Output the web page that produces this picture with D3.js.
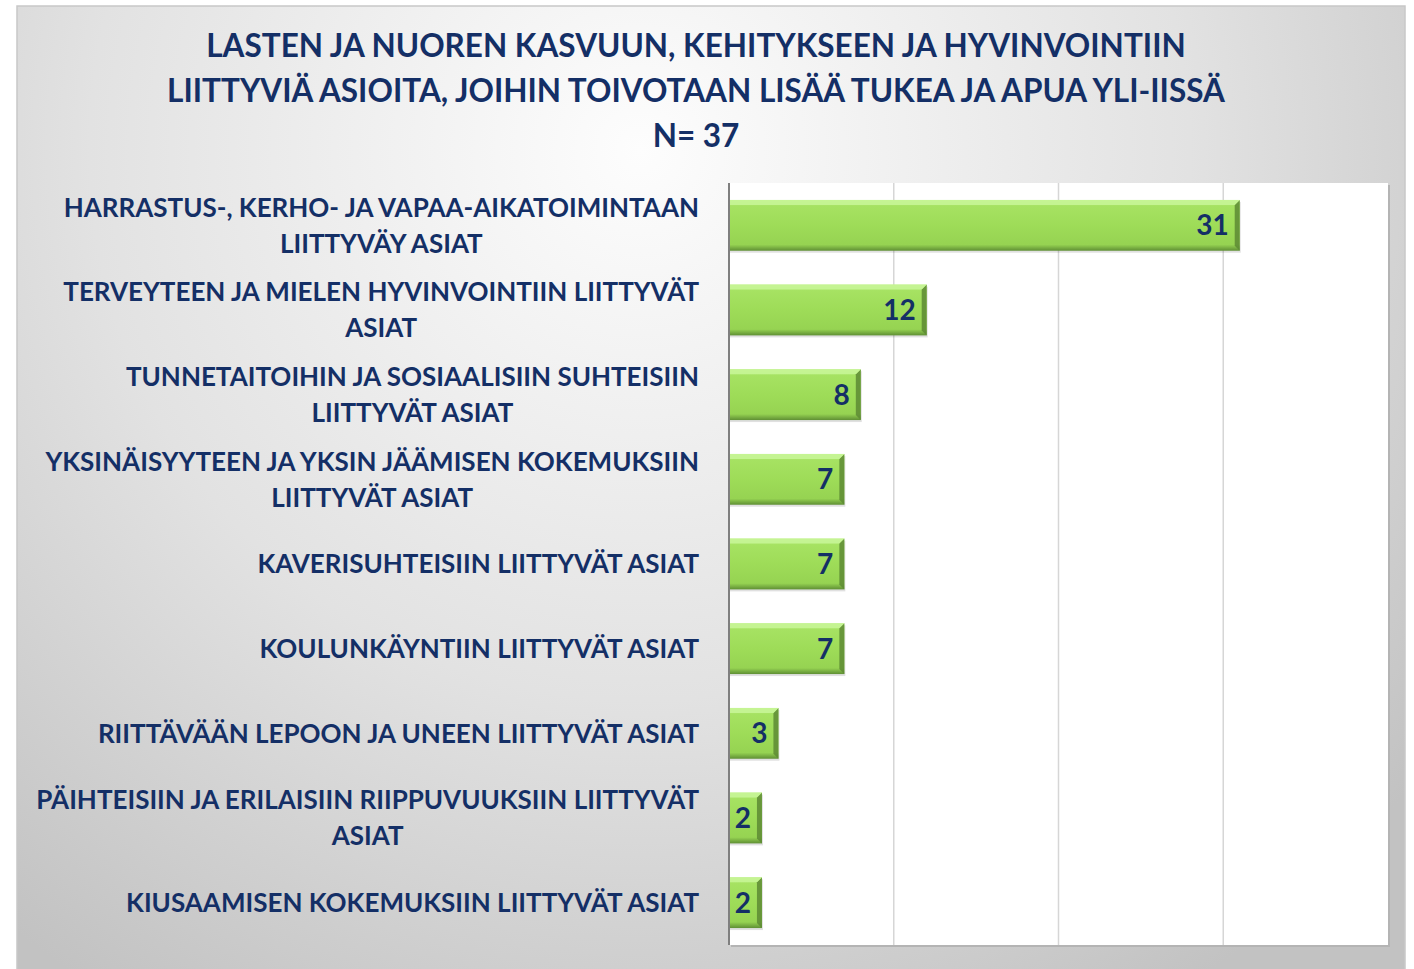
<!DOCTYPE html>
<html>
<head>
<meta charset="utf-8">
<script src="https://cdn.jsdelivr.net/npm/d3@7"></script>
<style>
  body { margin: 0; background: #ffffff; }
  svg { display: block; }
  text { font-family: Lato, "Open Sans", sans-serif; font-weight: bold; fill: #142f66; }
</style>
</head>
<body>
<svg id="chart" width="1414" height="969"></svg>
<script>
// data
var categories = [
    ["HARRASTUS-, KERHO- JA VAPAA-AIKATOIMINTAAN", "LIITTYVÄY ASIAT"],
    ["TERVEYTEEN JA MIELEN HYVINVOINTIIN LIITTYVÄT", "ASIAT"],
    ["TUNNETAITOIHIN JA SOSIAALISIIN SUHTEISIIN", "LIITTYVÄT ASIAT"],
    ["YKSINÄISYYTEEN JA YKSIN JÄÄMISEN KOKEMUKSIIN", "LIITTYVÄT ASIAT"],
    ["KAVERISUHTEISIIN LIITTYVÄT ASIAT"],
    ["KOULUNKÄYNTIIN LIITTYVÄT ASIAT"],
    ["RIITTÄVÄÄN LEPOON JA UNEEN LIITTYVÄT ASIAT"],
    ["PÄIHTEISIIN JA ERILAISIIN RIIPPUVUUKSIIN LIITTYVÄT", "ASIAT"],
    ["KIUSAAMISEN KOKEMUKSIIN LIITTYVÄT ASIAT"]
];
var values = [31, 12, 8, 7, 7, 7, 3, 2, 2];
var xTicks = [0, 10, 20, 30, 40];
var titleLines = [
    "LASTEN JA NUOREN KASVUUN, KEHITYKSEEN JA HYVINVOINTIIN",
    "LIITTYVIÄ ASIOITA, JOIHIN TOIVOTAAN LISÄÄ TUKEA JA APUA YLI-IISSÄ",
    "N= 37"
];

var svg = d3.select("#chart"),
    margin = {top: 183, right: 26, bottom: 24, left: 729},
    width = +svg.attr("width") - margin.left - margin.right,
    height = +svg.attr("height") - margin.top - margin.bottom;

var defs = svg.append("defs");

var bg = defs.append("radialGradient")
    .attr("id", "bg")
    .attr("gradientUnits", "userSpaceOnUse")
    .attr("cx", 640).attr("cy", 150).attr("r", 1000);
bg.append("stop").attr("offset", "0%").attr("stop-color", "#fdfdfd");
bg.append("stop").attr("offset", "55%").attr("stop-color", "#e2e2e2");
bg.append("stop").attr("offset", "100%").attr("stop-color", "#c2c2c2");

var barFill = defs.append("linearGradient")
    .attr("id", "barFill")
    .attr("x1", 0).attr("y1", 0).attr("x2", 0).attr("y2", 1);
barFill.append("stop").attr("offset", "0%").attr("stop-color", "#b9ee82");
barFill.append("stop").attr("offset", "12%").attr("stop-color", "#a6e262");
barFill.append("stop").attr("offset", "50%").attr("stop-color", "#9edc58");
barFill.append("stop").attr("offset", "88%").attr("stop-color", "#96d352");
barFill.append("stop").attr("offset", "100%").attr("stop-color", "#5f8f34");

// outer chart frame
svg.append("rect")
    .attr("x", 17).attr("y", 6)
    .attr("width", 1388).attr("height", 970)
    .attr("fill", "url(#bg)")
    .attr("stroke", "#c8c8c8")
    .attr("stroke-width", 1.5);

svg.append("text")
    .attr("text-anchor", "middle")
    .style("font-size", "31.5px")
    .selectAll("tspan")
    .data(titleLines)
    .enter().append("tspan")
    .attr("x", 696)
    .attr("y", function (d, i) { return 57 + i * 45; })
    .text(function (d) { return d; });

var x = d3.scaleLinear()
    .domain([0, 40])
    .range([0, width]);
var y = d3.scaleBand()
    .domain(d3.range(values.length))
    .range([0, height])
    .paddingInner(0.4)
    .paddingOuter(0.2);

var g = svg.append("g")
    .attr("transform", "translate(" + margin.left + "," + margin.top + ")");

g.append("rect")
    .attr("x", 2).attr("y", 2)
    .attr("width", width).attr("height", height)
    .attr("fill", "#b4b4b4");
g.append("rect")
    .attr("width", width)
    .attr("height", height)
    .attr("fill", "#ffffff");

g.append("g")
    .attr("class", "grid")
    .selectAll("line")
    .data(xTicks.slice(1, -1))
    .enter().append("line")
    .attr("x1", function (d) { return x(d); })
    .attr("x2", function (d) { return x(d); })
    .attr("y1", 0)
    .attr("y2", height)
    .attr("stroke", "#d6d6d6")
    .attr("stroke-width", 1.5);

var bars = g.selectAll(".bar")
    .data(values)
    .enter().append("g")
    .attr("class", "bar")
    .attr("transform", function (d, i) { return "translate(0," + y(i) + ")"; });

// drop shadow
bars.append("rect")
    .attr("x", 1).attr("y", 2)
    .attr("width", function (d) { return x(d); })
    .attr("height", y.bandwidth())
    .attr("fill", "#000")
    .attr("opacity", 0.12);

bars.append("rect")
    .attr("width", function (d) { return x(d); })
    .attr("height", y.bandwidth())
    .attr("fill", "url(#barFill)");

// right bevel edge
bars.append("path")
    .attr("d", function (d) {
        var w = x(d), h = y.bandwidth();
        return "M" + w + ",0L" + w + "," + h + "L" + (w - 5) + "," + (h - 5) + "L" + (w - 5) + ",5Z";
    })
    .attr("fill", "#5d8a34")
    .attr("opacity", 0.85);

// top bevel highlight
bars.append("path")
    .attr("d", function (d) {
        var w = x(d);
        return "M0,0L" + w + ",0L" + (w - 5) + ",5L0,5Z";
    })
    .attr("fill", "#c6f596")
    .attr("opacity", 0.9);

bars.append("text")
    .attr("x", function (d) { return x(d) - 11; })
    .attr("y", y.bandwidth() / 2)
    .attr("dy", "0.36em")
    .attr("text-anchor", "end")
    .style("font-size", "28px")
    .text(function (d) { return d; });

// category axis line
g.append("line")
    .attr("x1", 0).attr("x2", 0)
    .attr("y1", 0).attr("y2", height)
    .attr("stroke", "#7f7f7f")
    .attr("stroke-width", 2);

var labels = svg.append("g")
    .selectAll("text")
    .data(categories)
    .enter().append("text")
    .attr("text-anchor", "middle")
    .style("font-size", "26px");

labels.each(function (lines, i) {
    var t = d3.select(this);
    var cy = margin.top + y(i) + y.bandwidth() / 2;
    var lh = 36;
    t.selectAll("tspan")
        .data(lines)
        .enter().append("tspan")
        .attr("y", function (d, j) { return cy + (j - (lines.length - 1) / 2) * lh; })
        .attr("dy", "0.36em")
        .text(function (d) { return d; });
    // right-align the block, centre the lines inside it
    var maxW = d3.max(t.selectAll("tspan").nodes(), function (n) { return n.getComputedTextLength(); });
    t.selectAll("tspan").attr("x", 699 - maxW / 2);
});
</script>
</body>
</html>
